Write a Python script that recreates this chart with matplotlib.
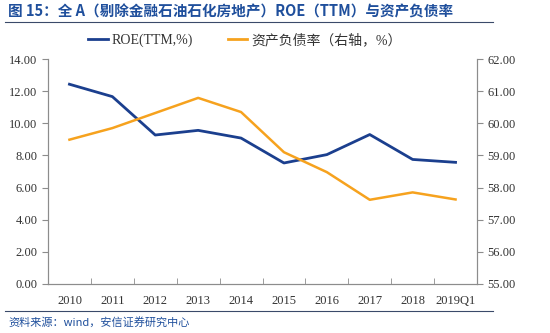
import numpy as np
import matplotlib.pyplot as plt
from matplotlib.lines import Line2D

plt.rcParams['font.family'] = ['Liberation Serif', 'Noto Sans CJK SC']

# ROE (TTM) and debt-to-asset ratio, all A shares ex financials / petrochem / real estate
periods = ["2010", "2011", "2012", "2013", "2014", "2015", "2016", "2017", "2018", "2019Q1"]
roe = [12.43, 11.66, 9.27, 9.56, 9.08, 7.53, 8.05, 9.30, 7.75, 7.57]
debt_ratio = [59.49, 59.85, 60.32, 60.79, 60.35, 59.10, 58.48, 57.62, 57.85, 57.63]

BLUE = "#1b3f8e"
ORANGE = "#f6a21e"
GREY = "#8c8c8c"
TITLE_BLUE = "#1f4f9c"

fig = plt.figure(figsize=(5.5, 3.33), dpi=100)
ax = fig.add_axes([48 / 550, 1 - 284 / 333, 429 / 550, 225 / 333])
ax2 = ax.twinx()

x = np.arange(len(periods))
ax.plot(x, roe, color=BLUE, lw=2.0, zorder=3)
ax2.plot(x, debt_ratio, color=ORANGE, lw=1.8, zorder=2)

ax.set_xlim(-0.5, len(periods) - 0.5)
ax.set_ylim(0, 14)
ax.set_yticks(np.arange(0, 14.1, 2))
ax.set_yticklabels([f"{v:.2f}" for v in np.arange(0, 14.1, 2)])
ax2.set_ylim(55, 62)
ax2.set_yticks(np.arange(55, 62.1, 1))
ax2.set_yticklabels([f"{v:.2f}" for v in np.arange(55, 62.1, 1)])

# category labels centred, tick marks between categories
ax.set_xticks(x)
ax.set_xticklabels(periods)
ax.set_xticks(np.arange(-0.5, len(periods), 1), minor=True)
ax.tick_params(axis="x", which="major", length=0, pad=8, labelsize=9, labelcolor="#333333")
ax.tick_params(axis="x", which="minor", direction="in", length=4, color=GREY)
ax.tick_params(axis="y", direction="out", length=4, color=GREY, labelsize=9, labelcolor="#333333")
ax2.tick_params(axis="y", direction="out", length=4, color=GREY, labelsize=9, labelcolor="#333333")

for a in (ax, ax2):
    a.spines["top"].set_visible(False)
    for s in ("left", "right", "bottom"):
        a.spines[s].set_color(GREY)
        a.spines[s].set_linewidth(0.8)

handles = [Line2D([], [], color=BLUE, lw=2.0), Line2D([], [], color=ORANGE, lw=2.0)]
fig.legend(handles, ["ROE(TTM,%)", "资产负债率（右轴，%）"], loc="center",
           bbox_to_anchor=(245 / 550, 1 - 40 / 333), ncol=2, frameon=False, fontsize=10,
           handlelength=1.4, handletextpad=0.3, columnspacing=2.5,
           labelcolor="#333333")

fig.text(8 / 550, 1 - 11 / 333, "图 15：全 A（剔除金融石油石化房地产）ROE（TTM）与资产负债率",
         color=TITLE_BLUE, fontsize=10.5, fontweight="bold", va="center",
         family=["Noto Sans CJK SC", "DejaVu Sans"])
fig.add_artist(Line2D([5 / 550, 493 / 550], [1 - 22 / 333] * 2, color="#3a4a6a", lw=0.8))
fig.add_artist(Line2D([5 / 550, 493 / 550], [1 - 311 / 333] * 2, color="#3a4a6a", lw=0.8))
fig.text(8 / 550, 1 - 322 / 333, "资料来源：wind，安信证券研究中心", color=TITLE_BLUE,
         fontsize=8, style="italic", va="center", family=["Noto Sans CJK SC", "DejaVu Sans"])

fig.savefig("out.png", dpi=100, facecolor="white")
